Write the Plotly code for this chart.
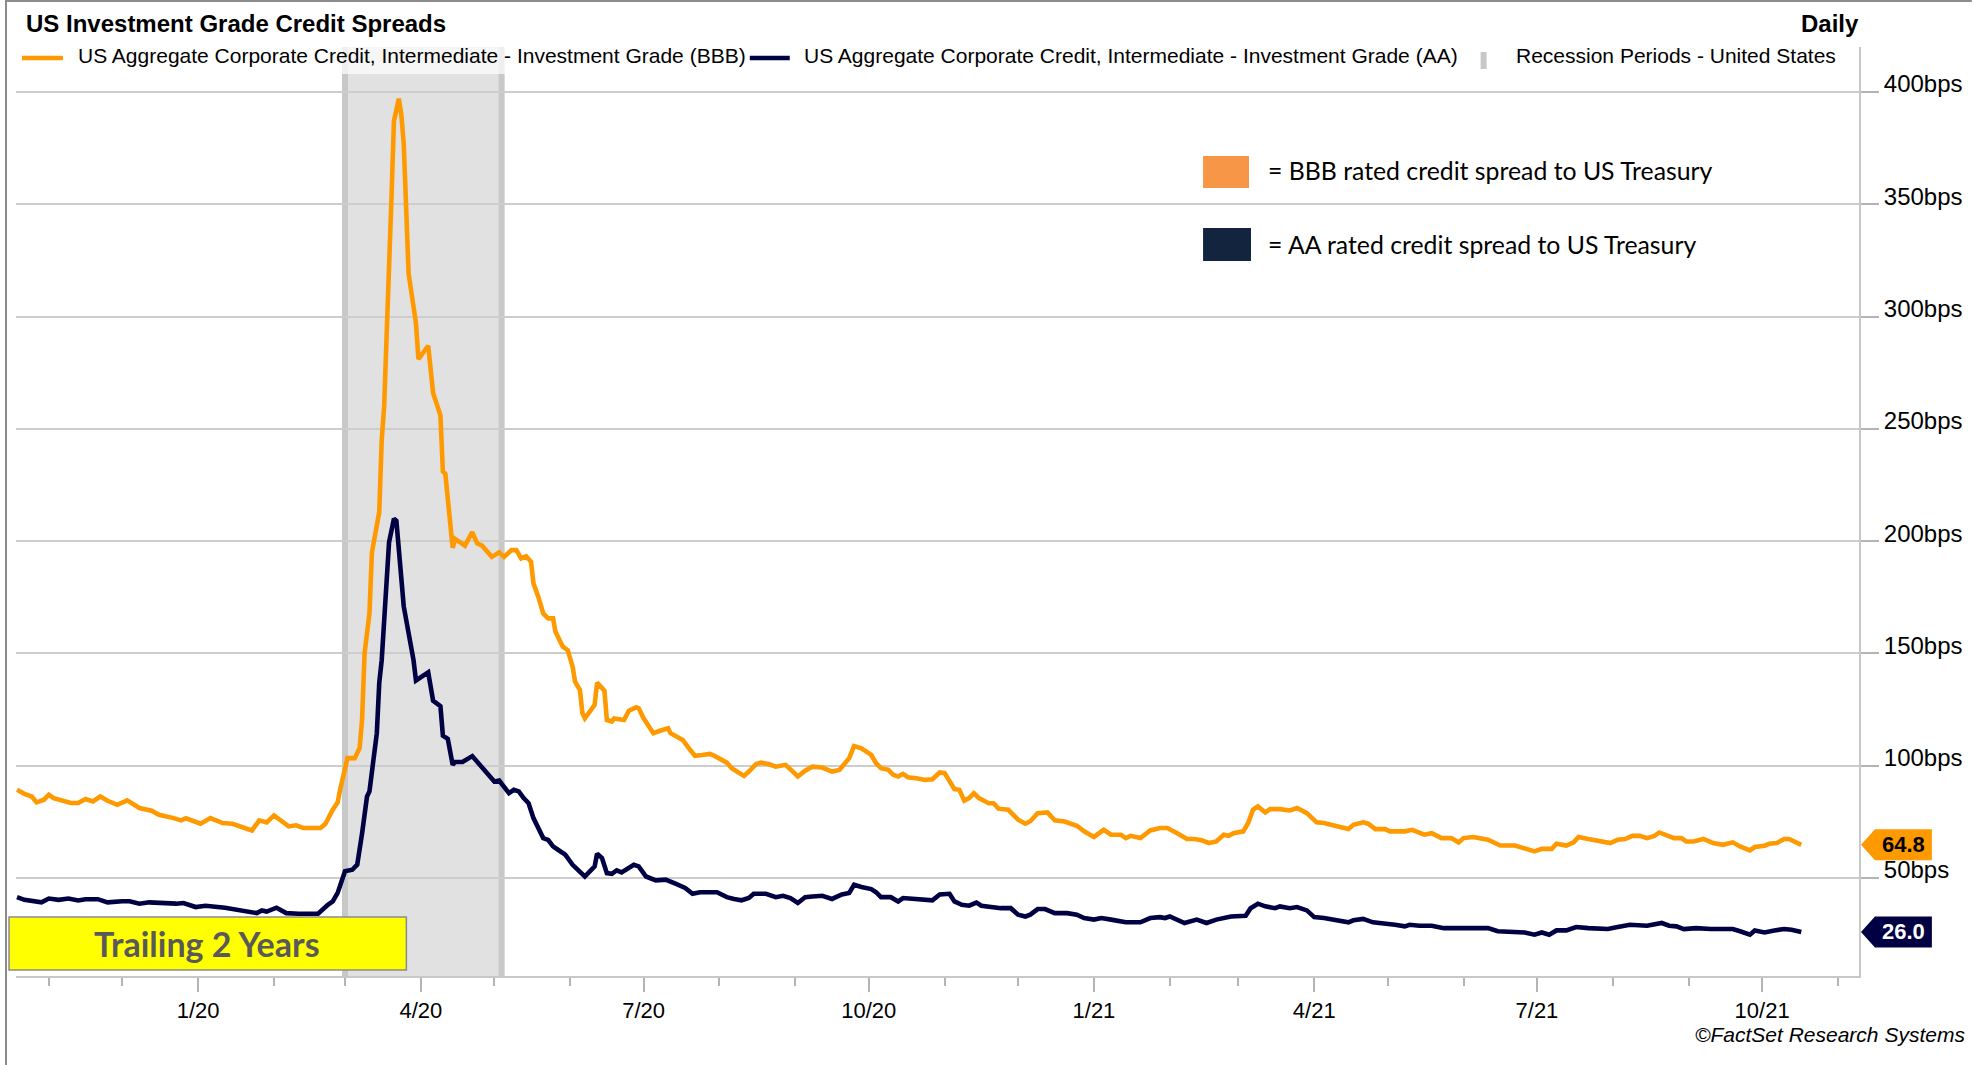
import plotly.graph_objects as go

# ---------------- data ----------------
bbb_dates = [
    "2019-10-19","2019-10-22","2019-10-25","2019-10-27","2019-10-30","2019-11-01","2019-11-03","2019-11-07",
    "2019-11-10","2019-11-13","2019-11-16","2019-11-19","2019-11-22","2019-11-25","2019-11-29","2019-12-03",
    "2019-12-08","2019-12-13","2019-12-16","2019-12-22","2019-12-25","2019-12-27","2020-01-02","2020-01-06",
    "2020-01-11","2020-01-15","2020-01-23","2020-01-26","2020-01-29","2020-02-01","2020-02-04","2020-02-07",
    "2020-02-10","2020-02-13","2020-02-20","2020-02-22","2020-02-25","2020-02-27","2020-02-28","2020-03-02",
    "2020-03-05","2020-03-07","2020-03-08","2020-03-09","2020-03-11","2020-03-12","2020-03-15","2020-03-16",
    "2020-03-17","2020-03-18","2020-03-19","2020-03-20","2020-03-21","2020-03-23","2020-03-24","2020-03-25",
    "2020-03-27","2020-03-30","2020-03-31","2020-04-02","2020-04-04","2020-04-06","2020-04-09","2020-04-10",
    "2020-04-11","2020-04-13","2020-04-14","2020-04-15","2020-04-19","2020-04-22","2020-04-24","2020-04-26",
    "2020-04-30","2020-05-03","2020-05-05","2020-05-08","2020-05-10","2020-05-12","2020-05-14","2020-05-16",
    "2020-05-17","2020-05-19","2020-05-21","2020-05-23","2020-05-25","2020-05-26","2020-05-29","2020-05-31",
    "2020-06-02","2020-06-03","2020-06-05","2020-06-06","2020-06-07","2020-06-11","2020-06-12","2020-06-15",
    "2020-06-16","2020-06-18","2020-06-19","2020-06-23","2020-06-25","2020-06-28","2020-06-29","2020-07-01",
    "2020-07-03","2020-07-05","2020-07-08","2020-07-11","2020-07-12","2020-07-15","2020-07-17","2020-07-20",
    "2020-07-22","2020-07-25","2020-07-28","2020-07-30","2020-08-02","2020-08-04","2020-08-06","2020-08-11",
    "2020-08-13","2020-08-16","2020-08-18","2020-08-21","2020-08-24","2020-08-28","2020-08-31","2020-09-02",
    "2020-09-05","2020-09-08","2020-09-12","2020-09-16","2020-09-19","2020-09-21","2020-09-23","2020-09-25",
    "2020-09-28","2020-10-02","2020-10-04","2020-10-06","2020-10-09","2020-10-11","2020-10-13","2020-10-15",
    "2020-10-17","2020-10-21","2020-10-24","2020-10-27","2020-10-30","2020-11-01","2020-11-03","2020-11-05",
    "2020-11-07","2020-11-09","2020-11-11","2020-11-13","2020-11-15","2020-11-19","2020-11-21","2020-11-23",
    "2020-11-27","2020-12-01","2020-12-04","2020-12-06","2020-12-09","2020-12-13","2020-12-16","2020-12-20",
    "2020-12-25","2020-12-28","2021-01-01","2021-01-05","2021-01-08","2021-01-12","2021-01-14","2021-01-16",
    "2021-01-20","2021-01-24","2021-01-28","2021-01-31","2021-02-04","2021-02-08","2021-02-11","2021-02-14",
    "2021-02-17","2021-02-20","2021-02-23","2021-02-25","2021-02-27","2021-03-03","2021-03-05","2021-03-07",
    "2021-03-09","2021-03-12","2021-03-14","2021-03-18","2021-03-22","2021-03-25","2021-03-29","2021-04-02",
    "2021-04-05","2021-04-09","2021-04-12","2021-04-15","2021-04-17","2021-04-21","2021-04-23","2021-04-26",
    "2021-04-30","2021-05-02","2021-05-05","2021-05-08","2021-05-11","2021-05-16","2021-05-19","2021-05-23",
    "2021-05-27","2021-05-30","2021-06-01","2021-06-05","2021-06-11","2021-06-16","2021-06-22","2021-06-26",
    "2021-06-30","2021-07-03","2021-07-07","2021-07-09","2021-07-13","2021-07-16","2021-07-18","2021-07-22",
    "2021-07-25","2021-07-29","2021-07-31","2021-08-03","2021-08-06","2021-08-09","2021-08-12","2021-08-15",
    "2021-08-18","2021-08-20","2021-08-23","2021-08-26","2021-08-29","2021-08-31","2021-09-03","2021-09-07",
    "2021-09-11","2021-09-15","2021-09-19","2021-09-22","2021-09-26","2021-09-28","2021-10-02","2021-10-04",
    "2021-10-07","2021-10-10","2021-10-12","2021-10-15","2021-10-17",
]
bbb_values = [
    89.3, 87.5, 86.3, 83.7, 84.9, 87.1, 85.6, 84.6,
    83.4, 83.4, 85.2, 84.1, 86.3, 84.4, 82.6, 84.6,
    81.2, 80.0, 78.2, 76.7, 75.7, 76.6, 74.2, 76.7,
    74.5, 74.2, 71.2, 75.7, 74.8, 77.9, 75.7, 73.0,
    73.5, 72.3, 72.3, 74.2, 80.4, 83.7, 89.3, 103.4,
    103.4, 108.0, 121.0, 150.0, 168.0, 195.0, 213.0, 245.0,
    260.0, 287.0, 316.0, 353.0, 387.0, 397.0, 390.0, 377.0,
    319.0, 297.0, 281.0, 284.0, 287.0, 266.0, 256.0, 231.0,
    230.0, 208.0, 197.0, 201.0, 198.0, 204.0, 199.0, 198.0,
    193.0, 195.0, 193.0, 196.0, 196.0, 192.3, 193.3, 190.8,
    181.2, 175.2, 167.8, 165.6, 165.6, 159.7, 153.0, 151.5,
    144.1, 137.4, 133.7, 123.4, 121.1, 127.1, 137.0, 133.4,
    120.4, 119.7, 121.1, 120.4, 124.5, 126.0, 125.6, 121.1,
    117.4, 114.5, 115.7, 116.7, 114.5, 112.7, 111.5, 107.1,
    104.4, 104.8, 105.3, 104.4, 102.9, 101.4, 98.9, 95.5,
    97.4, 100.8, 101.4, 100.8, 99.6, 100.4, 97.4, 95.2,
    97.8, 99.6, 99.2, 97.4, 98.1, 100.4, 103.4, 108.8,
    107.8, 104.8, 101.1, 98.9, 98.2, 96.0, 95.2, 96.4,
    94.9, 94.3, 93.7, 94.0, 97.0, 96.7, 93.0, 89.6,
    89.3, 84.5, 85.6, 87.8, 85.6, 83.3, 83.3, 80.9,
    80.4, 76.0, 74.2, 75.3, 78.9, 79.2, 75.7, 75.2,
    73.3, 70.8, 68.3, 71.5, 69.3, 69.3, 67.8, 68.8,
    67.8, 71.2, 72.3, 72.3, 70.0, 67.4, 67.4, 66.8,
    65.6, 66.3, 69.3, 68.8, 70.0, 70.8, 74.5, 80.4,
    81.9, 79.2, 80.7, 80.7, 80.1, 81.2, 78.9, 74.8,
    74.5, 73.7, 72.6, 71.8, 73.7, 74.8, 74.2, 71.8,
    71.8, 70.8, 70.8, 70.8, 71.5, 69.3, 70.0, 67.8,
    67.8, 65.9, 67.8, 68.3, 67.1, 64.5, 64.5, 63.4,
    61.9, 63.0, 63.0, 65.3, 64.5, 65.9, 68.3, 67.4,
    66.8, 65.6, 65.6, 67.1, 67.4, 68.8, 68.8, 67.8,
    68.8, 70.3, 68.8, 67.8, 67.8, 66.3, 66.3, 67.4,
    65.6, 64.8, 65.9, 64.1, 62.3, 63.8, 64.4, 65.3,
    65.6, 67.4, 67.4, 65.6, 64.8,
]

aa_dates = [
    "2019-10-19","2019-10-22","2019-10-29","2019-11-01","2019-11-05","2019-11-09","2019-11-13","2019-11-16",
    "2019-11-21","2019-11-25","2019-12-01","2019-12-04","2019-12-08","2019-12-12","2019-12-23","2019-12-26",
    "2019-12-31","2020-01-04","2020-01-12","2020-01-18","2020-01-25","2020-01-27","2020-01-29","2020-02-02",
    "2020-02-06","2020-02-11","2020-02-19","2020-02-23","2020-02-25","2020-02-27","2020-03-01","2020-03-04",
    "2020-03-06","2020-03-08","2020-03-09","2020-03-10","2020-03-11","2020-03-13","2020-03-14","2020-03-15",
    "2020-03-16","2020-03-19","2020-03-21","2020-03-22","2020-03-25","2020-03-29","2020-03-30","2020-04-04",
    "2020-04-06","2020-04-09","2020-04-10","2020-04-12","2020-04-14","2020-04-15","2020-04-18","2020-04-22",
    "2020-04-25","2020-04-28","2020-05-01","2020-05-03","2020-05-05","2020-05-07","2020-05-09","2020-05-11",
    "2020-05-13","2020-05-15","2020-05-17","2020-05-19","2020-05-21","2020-05-23","2020-05-25","2020-05-27",
    "2020-05-30","2020-06-02","2020-06-05","2020-06-07","2020-06-11","2020-06-12","2020-06-14","2020-06-16",
    "2020-06-18","2020-06-20","2020-06-22","2020-06-24","2020-06-27","2020-06-29","2020-07-02","2020-07-06",
    "2020-07-10","2020-07-14","2020-07-18","2020-07-21","2020-07-24","2020-07-31","2020-08-04","2020-08-07",
    "2020-08-10","2020-08-13","2020-08-15","2020-08-20","2020-08-24","2020-08-27","2020-08-30","2020-09-02",
    "2020-09-05","2020-09-08","2020-09-12","2020-09-16","2020-09-20","2020-09-23","2020-09-25","2020-09-28",
    "2020-10-02","2020-10-04","2020-10-06","2020-10-10","2020-10-13","2020-10-15","2020-10-20","2020-10-24",
    "2020-10-27","2020-10-30","2020-11-03","2020-11-05","2020-11-08","2020-11-11","2020-11-14","2020-11-16",
    "2020-11-20","2020-11-24","2020-11-28","2020-12-01","2020-12-04","2020-12-06","2020-12-09","2020-12-12",
    "2020-12-16","2020-12-21","2020-12-25","2020-12-28","2021-01-01","2021-01-04","2021-01-08","2021-01-14",
    "2021-01-20","2021-01-24","2021-01-28","2021-01-30","2021-02-01","2021-02-07","2021-02-12","2021-02-16",
    "2021-02-20","2021-02-23","2021-02-26","2021-03-04","2021-03-06","2021-03-09","2021-03-12","2021-03-16",
    "2021-03-18","2021-03-22","2021-03-25","2021-03-29","2021-04-01","2021-04-05","2021-04-10","2021-04-15",
    "2021-04-17","2021-04-21","2021-04-25","2021-04-29","2021-05-04","2021-05-08","2021-05-10","2021-05-14",
    "2021-05-19","2021-05-24","2021-05-30","2021-06-03","2021-06-07","2021-06-11","2021-06-15","2021-06-21",
    "2021-06-26","2021-06-30","2021-07-03","2021-07-06","2021-07-09","2021-07-13","2021-07-17","2021-07-22",
    "2021-07-27","2021-07-30","2021-08-03","2021-08-08","2021-08-15","2021-08-21","2021-08-24","2021-08-27",
    "2021-08-30","2021-09-04","2021-09-10","2021-09-19","2021-09-22","2021-09-26","2021-09-28","2021-10-02",
    "2021-10-06","2021-10-10","2021-10-13","2021-10-17",
]
aa_values = [
    41.5, 40.3, 39.2, 40.9, 40.3, 40.9, 40.0, 40.6,
    40.6, 39.2, 39.7, 39.7, 38.6, 39.2, 38.6, 38.9,
    37.1, 37.7, 36.8, 35.9, 34.4, 35.6, 35.1, 36.8,
    34.4, 34.1, 34.1, 38.1, 39.6, 43.4, 53.0, 53.7,
    56.0, 70.0, 80.0, 86.3, 88.6, 108.6, 114.5, 137.0,
    147.0, 199.5, 210.0, 209.0, 171.0, 147.0, 138.0, 141.6,
    129.0, 126.5, 113.4, 112.0, 100.4, 101.7, 101.7, 104.3,
    100.4, 96.1, 93.0, 93.4, 90.5, 87.8, 89.3, 88.6,
    85.6, 83.3, 76.7, 72.2, 67.8, 67.0, 64.1, 62.6,
    60.4, 55.9, 53.0, 50.7, 55.2, 60.8, 58.9, 52.2,
    51.9, 53.4, 52.5, 53.7, 55.9, 55.2, 50.7, 49.0,
    49.3, 47.5, 45.6, 43.0, 43.7, 43.7, 41.5, 40.7,
    40.1, 41.1, 43.0, 43.0, 41.5, 42.1, 41.1, 38.9,
    41.5, 41.8, 42.1, 40.7, 42.7, 43.4, 47.0, 46.0,
    45.1, 43.7, 41.5, 41.5, 39.6, 41.1, 40.7, 40.7,
    40.1, 42.7, 43.0, 39.6, 38.1, 37.7, 39.1, 37.7,
    37.1, 36.6, 36.6, 33.7, 32.9, 33.7, 36.2, 36.2,
    34.4, 34.4, 33.7, 32.2, 31.5, 32.2, 31.5, 30.3,
    30.3, 32.2, 32.6, 32.2, 32.9, 30.0, 31.5, 30.0,
    31.5, 32.2, 32.9, 33.2, 36.6, 38.6, 37.4, 36.6,
    37.4, 36.6, 37.1, 35.6, 32.6, 32.2, 31.2, 30.3,
    31.2, 31.8, 30.3, 30.0, 29.2, 28.5, 29.2, 28.8,
    28.8, 27.7, 27.7, 28.2, 27.7, 27.7, 26.3, 26.3,
    25.8, 24.8, 25.8, 24.8, 26.7, 26.7, 28.2, 27.7,
    27.7, 27.3, 28.2, 29.2, 28.8, 30.0, 28.8, 28.5,
    27.3, 27.7, 27.3, 27.3, 26.3, 24.8, 26.7, 25.8,
    26.7, 27.3, 27.0, 26.0,
]

recession_start = "2020-03-01"
recession_end = "2020-05-04"

y_tick_values = [50, 100, 150, 200, 250, 300, 350, 400]
y_tick_labels = [f"{v}bps" for v in y_tick_values]
y_range = [6.4, 420]
x_range = ["2019-10-18 14:00", "2021-11-09 14:00"]

title_text = "US Investment Grade Credit Spreads"
bbb_name = "US Aggregate Corporate Credit, Intermediate - Investment Grade (BBB)"
aa_name = "US Aggregate Corporate Credit, Intermediate - Investment Grade (AA)"
recession_name = "Recession Periods - United States"

# ---------------- styles ----------------
W, H = 1975, 1065
L, R, T, B = 16, 1862, 47, 976
BBB_COLOR = "#FF9900"
AA_COLOR = "#000042"
ARIAL = "Arial, Liberation Sans, sans-serif"
CAL = "Lato, Open Sans, sans-serif"


def px_x(p):
    return (p - L) / (R - L)


def px_y(p):
    return (B - p) / (B - T)


def val_to_paper(v):
    return (v - y_range[0]) / (y_range[1] - y_range[0])


fig = go.Figure()
fig.add_trace(go.Scatter(x=bbb_dates, y=bbb_values, mode="lines", name=bbb_name,
                         line=dict(color=BBB_COLOR, width=4.6), hoverinfo="skip"))
fig.add_trace(go.Scatter(x=aa_dates, y=aa_values, mode="lines", name=aa_name,
                         line=dict(color=AA_COLOR, width=4.6), hoverinfo="skip"))

shapes = []
# recession shading
shapes.append(dict(type="rect", xref="x", yref="paper", x0=recession_start, x1=recession_end,
                   y0=0, y1=1, fillcolor="#E1E1E1", line=dict(width=0), layer="below"))
for d in (recession_start, recession_end):
    shapes.append(dict(type="line", xref="x", yref="paper", x0=d, x1=d, y0=0, y1=1,
                       line=dict(color="#C8C8C8", width=6), layer="below"))
# translucent legend band over top of shading
shapes.append(dict(type="rect", xref="paper", yref="paper", x0=px_x(L), x1=px_x(1480),
                   y0=px_y(74), y1=1, fillcolor="rgba(255,255,255,0.7)", line=dict(width=0),
                   layer="above"))

# outer frame lines
shapes.append(dict(type="line", xref="paper", yref="paper", x0=px_x(6), x1=px_x(6),
                   y0=px_y(0), y1=px_y(H), line=dict(color="#8C8C8C", width=2)))
shapes.append(dict(type="line", xref="paper", yref="paper", x0=px_x(5), x1=px_x(W),
                   y0=px_y(1), y1=px_y(1), line=dict(color="#8C8C8C", width=2)))

# legend samples
shapes.append(dict(type="line", xref="paper", yref="paper", x0=px_x(22), x1=px_x(63),
                   y0=px_y(58), y1=px_y(58), line=dict(color=BBB_COLOR, width=4.5)))
shapes.append(dict(type="line", xref="paper", yref="paper", x0=px_x(751), x1=px_x(791),
                   y0=px_y(58), y1=px_y(58), line=dict(color=AA_COLOR, width=4.5)))
shapes.append(dict(type="rect", xref="paper", yref="paper", x0=px_x(1483), x1=px_x(1489),
                   y0=px_y(69), y1=px_y(52), fillcolor="#C8C8C8", line=dict(width=0)))

# colour key boxes
shapes.append(dict(type="rect", xref="paper", yref="paper", x0=px_x(1205), x1=px_x(1251),
                   y0=px_y(188), y1=px_y(156), fillcolor="#F79646", line=dict(width=0)))
shapes.append(dict(type="rect", xref="paper", yref="paper", x0=px_x(1205), x1=px_x(1253),
                   y0=px_y(261), y1=px_y(228), fillcolor="#13243F", line=dict(width=0)))

# trailing box
shapes.append(dict(type="rect", xref="paper", yref="paper", x0=px_x(9), x1=px_x(407),
                   y0=px_y(970), y1=px_y(917), fillcolor="#FFFF00",
                   line=dict(color="#8C8C8C", width=1.5), layer="above"))

annotations = []
# end-value tags
for vals, fill, txtc in ((bbb_values, BBB_COLOR, "#000000"), (aa_values, AA_COLOR, "#FFFFFF")):
    v = vals[-1]
    yc = val_to_paper(v)
    hh = 15.5 / (B - T)
    xt, xb, xr = px_x(1864), px_x(1878), px_x(1935)
    shapes.append(dict(type="path", xref="paper", yref="paper",
                       path=f"M {xt},{yc} L {xb},{yc+hh} L {xr},{yc+hh} L {xr},{yc-hh} L {xb},{yc-hh} Z",
                       fillcolor=fill, line=dict(width=0)))
    annotations.append(dict(xref="paper", yref="paper", x=(xb + xr) / 2, y=yc, text=f"<b>{v:.1f}</b>",
                            showarrow=False, xanchor="center", yanchor="middle",
                            font=dict(family=ARIAL, size=22, color=txtc)))

annotations += [
    dict(xref="paper", yref="paper", x=px_x(24), y=px_y(23), text=f"<b>{title_text}</b>",
         showarrow=False, xanchor="left", yanchor="middle", font=dict(family=ARIAL, size=24, color="#000")),
    dict(xref="paper", yref="paper", x=px_x(1864), y=px_y(23), text="<b>Daily</b>",
         showarrow=False, xanchor="right", yanchor="middle", font=dict(family=ARIAL, size=24, color="#000")),
    dict(xref="paper", yref="paper", x=px_x(76), y=px_y(55), text=bbb_name,
         showarrow=False, xanchor="left", yanchor="middle", font=dict(family=ARIAL, size=21, color="#000")),
    dict(xref="paper", yref="paper", x=px_x(803), y=px_y(55), text=aa_name,
         showarrow=False, xanchor="left", yanchor="middle", font=dict(family=ARIAL, size=21, color="#000")),
    dict(xref="paper", yref="paper", x=px_x(1516), y=px_y(55), text=recession_name,
         showarrow=False, xanchor="left", yanchor="middle", font=dict(family=ARIAL, size=21, color="#000")),
    dict(xref="paper", yref="paper", x=px_x(1268), y=px_y(171), text="= BBB rated credit spread to US Treasury",
         showarrow=False, xanchor="left", yanchor="middle", font=dict(family=CAL, size=24.8, color="#000")),
    dict(xref="paper", yref="paper", x=px_x(1268), y=px_y(245), text="= AA rated credit spread to US Treasury",
         showarrow=False, xanchor="left", yanchor="middle", font=dict(family=CAL, size=24.8, color="#000")),
    dict(xref="paper", yref="paper", x=px_x(207), y=px_y(943), text="<b>Trailing 2 Years</b>",
         showarrow=False, xanchor="center", yanchor="middle", font=dict(family=CAL, size=34, color="#595959")),
    dict(xref="paper", yref="paper", x=px_x(1970), y=px_y(1034), text="<i>©FactSet Research Systems</i>",
         showarrow=False, xanchor="right", yanchor="middle", font=dict(family=ARIAL, size=21, color="#000")),
]

fig.update_layout(
    width=W, height=H,
    margin=dict(l=L, r=W - R, t=T, b=H - B, pad=0),
    paper_bgcolor="#FFFFFF", plot_bgcolor="#FFFFFF",
    showlegend=False,
    shapes=shapes, annotations=annotations,
    xaxis=dict(
        type="date", range=x_range, showgrid=False, zeroline=False,
        showline=True, linecolor="#C8C8C8", linewidth=2,
        ticks="outside", ticklen=14, tickwidth=1.5, tickcolor="#B4B4B4",
        dtick="M3", tick0="2020-01-01", tickformat="%-m/%y",
        tickfont=dict(family=ARIAL, size=22, color="#000"),
        minor=dict(dtick="M1", tick0="2019-11-01", ticks="outside", ticklen=8,
                   tickwidth=1.5, tickcolor="#B4B4B4", showgrid=False),
    ),
    yaxis=dict(
        side="right", range=y_range, tickmode="array", tickvals=y_tick_values, ticktext=y_tick_labels,
        showgrid=True, gridcolor="#CDCDCD", gridwidth=1.5, zeroline=False,
        showline=True, linecolor="#C8C8C8", linewidth=2,
        ticks="outside", ticklen=18, tickwidth=1.5, tickcolor="#B4B4B4",
        ticklabelshift=-8,
        tickfont=dict(family=ARIAL, size=24, color="#000"),
    ),
)

fig.write_html(
    "out.html",
    config={"displayModeBar": False},
    post_script="document.body.style.margin='0px';document.body.style.overflow='hidden';",
)
